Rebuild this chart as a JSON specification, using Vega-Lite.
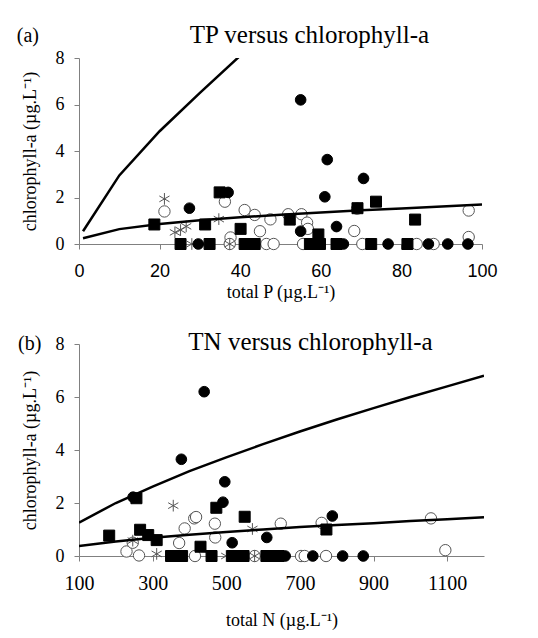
{
  "$schema": "https://vega.github.io/schema/vega-lite/v6.json",
  "autosize": {"type": "pad"},
  "padding": {"left": 16, "top": 22, "right": 5, "bottom": 3},
  "background": "white",
  "config": {
    "view": {"stroke": null},
    "axis": {
      "grid": false,
      "labelFlush": false,
      "labelOverlap": false,
      "domainColor": "#808080",
      "tickColor": "#808080",
      "labelColor": "black",
      "titleColor": "black",
      "labelFont": "Liberation Serif",
      "titleFont": "Liberation Serif",
      "labelFontSize": 18,
      "titleFontSize": 18,
      "titleFontWeight": "normal",
      "tickSize": 5
    },
    "title": {"font": "Liberation Serif", "fontSize": 25, "fontWeight": "normal", "color": "black", "frame": "group"}
  },
  "datasets": {
    "tp": [
      {"tp": 21.2, "chla": 1.40, "series": "C"}, {"tp": 36.2, "chla": 1.82, "series": "C"}, {"tp": 41.1, "chla": 1.46, "series": "C"},
      {"tp": 43.6, "chla": 1.25, "series": "C"}, {"tp": 47.5, "chla": 1.06, "series": "C"}, {"tp": 51.9, "chla": 1.28, "series": "C"},
      {"tp": 55.2, "chla": 1.28, "series": "C"}, {"tp": 56.6, "chla": 0.92, "series": "C"}, {"tp": 56.8, "chla": 0.65, "series": "C"},
      {"tp": 44.9, "chla": 0.55, "series": "C"}, {"tp": 37.6, "chla": 0.28, "series": "C"}, {"tp": 68.3, "chla": 0.56, "series": "C"},
      {"tp": 69.0, "chla": 1.52, "series": "C"}, {"tp": 96.7, "chla": 1.44, "series": "C"}, {"tp": 96.7, "chla": 0.30, "series": "C"},
      {"tp": 37.4, "chla": 0, "series": "C"}, {"tp": 46.5, "chla": 0, "series": "C"}, {"tp": 48.3, "chla": 0, "series": "C"},
      {"tp": 55.6, "chla": 0, "series": "C"}, {"tp": 70.3, "chla": 0, "series": "C"}, {"tp": 83.8, "chla": 0, "series": "C"},
      {"tp": 88.0, "chla": 0, "series": "C"},
      {"tp": 21.2, "chla": 1.94, "series": "D"}, {"tp": 23.8, "chla": 0.50, "series": "D"}, {"tp": 25.2, "chla": 0.60, "series": "D"},
      {"tp": 26.6, "chla": 0.76, "series": "D"}, {"tp": 34.7, "chla": 1.07, "series": "D"}, {"tp": 28.0, "chla": 0, "series": "D"},
      {"tp": 37.4, "chla": 0, "series": "D"},
      {"tp": 18.7, "chla": 0.84, "series": "B"}, {"tp": 31.3, "chla": 0.84, "series": "B"}, {"tp": 34.9, "chla": 2.22, "series": "B"},
      {"tp": 40.1, "chla": 0.65, "series": "B"}, {"tp": 52.3, "chla": 1.05, "series": "B"}, {"tp": 59.4, "chla": 0.41, "series": "B"},
      {"tp": 69.1, "chla": 1.54, "series": "B"}, {"tp": 73.7, "chla": 1.82, "series": "B"}, {"tp": 83.4, "chla": 1.05, "series": "B"},
      {"tp": 25.2, "chla": 0, "series": "B"}, {"tp": 32.4, "chla": 0, "series": "B"}, {"tp": 41.1, "chla": 0, "series": "B"},
      {"tp": 43.6, "chla": 0, "series": "B"}, {"tp": 57.3, "chla": 0, "series": "B"}, {"tp": 59.8, "chla": 0, "series": "B"},
      {"tp": 63.9, "chla": 0, "series": "B"}, {"tp": 72.5, "chla": 0, "series": "B"}, {"tp": 81.5, "chla": 0, "series": "B"},
      {"tp": 55.0, "chla": 6.2, "series": "A"}, {"tp": 61.6, "chla": 3.63, "series": "A"}, {"tp": 70.6, "chla": 2.82, "series": "A"},
      {"tp": 61.0, "chla": 2.03, "series": "A"}, {"tp": 37.0, "chla": 2.22, "series": "A"}, {"tp": 27.4, "chla": 1.54, "series": "A"},
      {"tp": 63.9, "chla": 0.75, "series": "A"}, {"tp": 55.0, "chla": 0.55, "series": "A"}, {"tp": 29.6, "chla": 0, "series": "A"},
      {"tp": 65.6, "chla": 0, "series": "A"}, {"tp": 76.7, "chla": 0, "series": "A"}, {"tp": 86.7, "chla": 0, "series": "A"},
      {"tp": 91.5, "chla": 0, "series": "A"}, {"tp": 96.5, "chla": 0, "series": "A"}
    ],
    "tpCurves": [
      {"tp": 1, "chla": 0.55, "curve": "upper"}, {"tp": 10, "chla": 2.95, "curve": "upper"}, {"tp": 20, "chla": 4.85, "curve": "upper"},
      {"tp": 30, "chla": 6.5, "curve": "upper"}, {"tp": 40, "chla": 8.1, "curve": "upper"},
      {"tp": 1, "chla": 0.25, "curve": "lower"}, {"tp": 10, "chla": 0.64, "curve": "lower"}, {"tp": 20, "chla": 0.86, "curve": "lower"},
      {"tp": 30, "chla": 1.02, "curve": "lower"}, {"tp": 40, "chla": 1.15, "curve": "lower"}, {"tp": 50, "chla": 1.26, "curve": "lower"},
      {"tp": 60, "chla": 1.36, "curve": "lower"}, {"tp": 70, "chla": 1.45, "curve": "lower"}, {"tp": 80, "chla": 1.53, "curve": "lower"},
      {"tp": 90, "chla": 1.61, "curve": "lower"}, {"tp": 100, "chla": 1.7, "curve": "lower"}
    ],
    "tn": [
      {"tn": 229, "chla": 0.17, "series": "C"}, {"tn": 263, "chla": 0.02, "series": "C"}, {"tn": 246, "chla": 0.5, "series": "C"},
      {"tn": 372, "chla": 0.49, "series": "C"}, {"tn": 387, "chla": 1.04, "series": "C"}, {"tn": 413, "chla": 1.42, "series": "C"},
      {"tn": 418, "chla": 1.47, "series": "C"}, {"tn": 469, "chla": 1.22, "series": "C"}, {"tn": 470, "chla": 0.7, "series": "C"},
      {"tn": 648, "chla": 1.22, "series": "C"}, {"tn": 759, "chla": 1.25, "series": "C"}, {"tn": 1056, "chla": 1.42, "series": "C"},
      {"tn": 1095, "chla": 0.22, "series": "C"}, {"tn": 415, "chla": 0, "series": "C"}, {"tn": 577, "chla": 0, "series": "C"},
      {"tn": 703, "chla": 0, "series": "C"}, {"tn": 713, "chla": 0, "series": "C"}, {"tn": 771, "chla": 0, "series": "C"},
      {"tn": 246, "chla": 0.58, "series": "D"}, {"tn": 356, "chla": 1.9, "series": "D"}, {"tn": 571, "chla": 1.02, "series": "D"},
      {"tn": 311, "chla": 0.08, "series": "D"}, {"tn": 500, "chla": 0, "series": "D"}, {"tn": 577, "chla": 0, "series": "D"},
      {"tn": 182, "chla": 0.77, "series": "B"}, {"tn": 266, "chla": 0.99, "series": "B"}, {"tn": 288, "chla": 0.79, "series": "B"},
      {"tn": 311, "chla": 0.6, "series": "B"}, {"tn": 256, "chla": 2.18, "series": "B"}, {"tn": 430, "chla": 0.35, "series": "B"},
      {"tn": 473, "chla": 1.82, "series": "B"}, {"tn": 550, "chla": 1.48, "series": "B"}, {"tn": 772, "chla": 1.0, "series": "B"},
      {"tn": 350, "chla": 0, "series": "B"}, {"tn": 365, "chla": 0, "series": "B"}, {"tn": 380, "chla": 0, "series": "B"},
      {"tn": 460, "chla": 0, "series": "B"}, {"tn": 516, "chla": 0, "series": "B"}, {"tn": 531, "chla": 0, "series": "B"},
      {"tn": 547, "chla": 0, "series": "B"}, {"tn": 609, "chla": 0, "series": "B"}, {"tn": 625, "chla": 0, "series": "B"},
      {"tn": 642, "chla": 0, "series": "B"},
      {"tn": 440, "chla": 6.2, "series": "A"}, {"tn": 378, "chla": 3.65, "series": "A"}, {"tn": 496, "chla": 2.8, "series": "A"},
      {"tn": 491, "chla": 2.03, "series": "A"}, {"tn": 247, "chla": 2.22, "series": "A"}, {"tn": 516, "chla": 0.5, "series": "A"},
      {"tn": 610, "chla": 0.7, "series": "A"}, {"tn": 788, "chla": 1.51, "series": "A"}, {"tn": 660, "chla": 0, "series": "A"},
      {"tn": 735, "chla": 0, "series": "A"}, {"tn": 816, "chla": 0, "series": "A"}, {"tn": 872, "chla": 0, "series": "A"}
    ],
    "tnCurves": [
      {"tn": 100, "chla": 1.26, "curve": "upper"}, {"tn": 200, "chla": 2.0, "curve": "upper"}, {"tn": 300, "chla": 2.62, "curve": "upper"},
      {"tn": 400, "chla": 3.2, "curve": "upper"}, {"tn": 500, "chla": 3.72, "curve": "upper"}, {"tn": 600, "chla": 4.22, "curve": "upper"},
      {"tn": 700, "chla": 4.7, "curve": "upper"}, {"tn": 800, "chla": 5.15, "curve": "upper"}, {"tn": 900, "chla": 5.58, "curve": "upper"},
      {"tn": 1000, "chla": 6.0, "curve": "upper"}, {"tn": 1100, "chla": 6.4, "curve": "upper"}, {"tn": 1200, "chla": 6.8, "curve": "upper"},
      {"tn": 100, "chla": 0.38, "curve": "lower"}, {"tn": 200, "chla": 0.55, "curve": "lower"}, {"tn": 300, "chla": 0.69, "curve": "lower"},
      {"tn": 400, "chla": 0.8, "curve": "lower"}, {"tn": 500, "chla": 0.91, "curve": "lower"}, {"tn": 600, "chla": 1.0, "curve": "lower"},
      {"tn": 700, "chla": 1.09, "curve": "lower"}, {"tn": 800, "chla": 1.17, "curve": "lower"}, {"tn": 900, "chla": 1.24, "curve": "lower"},
      {"tn": 1000, "chla": 1.32, "curve": "lower"}, {"tn": 1100, "chla": 1.39, "curve": "lower"}, {"tn": 1200, "chla": 1.46, "curve": "lower"}
    ]
  },
  "resolve": {"scale": {"x": "independent", "y": "independent"}},
  "spacing": 29,
  "vconcat": [
    {
      "width": 403,
      "height": 186,
      "title": {"text": "TP versus chlorophyll-a", "dx": 29, "offset": -22},
      "layer": [
        {
          "data": {"name": "tp"},
          "mark": {"type": "point", "filled": true, "strokeWidth": 1, "opacity": 1},
          "encoding": {
            "x": {"field": "tp", "type": "quantitative", "scale": {"domain": [0, 100]},
                  "axis": {"values": [0, 20, 40, 60, 80, 100], "title": "total P (µg.L⁻¹)", "labelFont": "Liberation Sans", "labelFontSize": 18, "labelPadding": 13, "titlePadding": 3, "titleFont": "Liberation Serif"}},
            "y": {"field": "chla", "type": "quantitative", "scale": {"domain": [0, 8]},
                  "axis": {"values": [0, 2, 4, 6, 8], "title": "chlorophyll-a (µg.L⁻¹)", "labelFont": "Liberation Serif", "labelPadding": 10, "titlePadding": 16}},
            "shape": {"field": "series", "type": "nominal", "legend": null,
                      "scale": {"domain": ["A", "B", "C", "D"], "range": ["circle", "square", "circle", "M0,-1L0,1M-0.87,-0.5L0.87,0.5M-0.87,0.5L0.87,-0.5"]}},
            "fill": {"field": "series", "type": "nominal", "legend": null,
                     "scale": {"domain": ["A", "B", "C", "D"], "range": ["black", "black", "white", "white"]}},
            "fillOpacity": {"field": "series", "type": "nominal", "legend": null,
                     "scale": {"domain": ["A", "B", "C", "D"], "range": [1, 1, 0, 0]}},
            "stroke": {"field": "series", "type": "nominal", "legend": null,
                       "scale": {"domain": ["A", "B", "C", "D"], "range": ["black", "black", "#555555", "#555555"]}},
            "size": {"field": "series", "type": "nominal", "legend": null,
                     "scale": {"domain": ["A", "B", "C", "D"], "range": [113, 137, 130, 150]}}
          }
        },
        {
          "data": {"name": "tpCurves"},
          "mark": {"type": "line", "color": "black", "strokeWidth": 2.5, "clip": true},
          "encoding": {
            "x": {"field": "tp", "type": "quantitative"},
            "y": {"field": "chla", "type": "quantitative"},
            "detail": {"field": "curve", "type": "nominal"}
          }
        },
        {
          "data": {"values": [{}]},
          "mark": {"type": "text", "font": "Liberation Serif", "fontSize": 20, "color": "black"},
          "encoding": {
            "x": {"datum": -12.7, "type": "quantitative"},
            "y": {"datum": 8.95, "type": "quantitative"},
            "text": {"value": "(a)"}
          }
        }
      ]
    },
    {
      "width": 405,
      "height": 212,
      "title": {"text": "TN versus chlorophyll-a", "dx": 29, "offset": -21},
      "layer": [
        {
          "data": {"name": "tn"},
          "mark": {"type": "point", "filled": true, "strokeWidth": 1, "opacity": 1},
          "encoding": {
            "x": {"field": "tn", "type": "quantitative", "scale": {"domain": [100, 1200]},
                  "axis": {"values": [100, 300, 500, 700, 900, 1100], "format": "d", "title": "total N (µg.L⁻¹)", "labelFont": "Liberation Serif", "labelFontSize": 20, "labelPadding": 12, "titlePadding": 18}},
            "y": {"field": "chla", "type": "quantitative", "scale": {"domain": [0, 8]},
                  "axis": {"values": [0, 2, 4, 6, 8], "title": "chlorophyll-a (µg.L⁻¹)", "labelFont": "Liberation Serif", "labelPadding": 10, "titlePadding": 16}},
            "shape": {"field": "series", "type": "nominal", "legend": null,
                      "scale": {"domain": ["A", "B", "C", "D"], "range": ["circle", "square", "circle", "M0,-1L0,1M-0.87,-0.5L0.87,0.5M-0.87,0.5L0.87,-0.5"]}},
            "fill": {"field": "series", "type": "nominal", "legend": null,
                     "scale": {"domain": ["A", "B", "C", "D"], "range": ["black", "black", "white", "white"]}},
            "fillOpacity": {"field": "series", "type": "nominal", "legend": null,
                     "scale": {"domain": ["A", "B", "C", "D"], "range": [1, 1, 0, 0]}},
            "stroke": {"field": "series", "type": "nominal", "legend": null,
                       "scale": {"domain": ["A", "B", "C", "D"], "range": ["black", "black", "#555555", "#555555"]}},
            "size": {"field": "series", "type": "nominal", "legend": null,
                     "scale": {"domain": ["A", "B", "C", "D"], "range": [113, 137, 130, 150]}}
          }
        },
        {
          "data": {"name": "tnCurves"},
          "mark": {"type": "line", "color": "black", "strokeWidth": 2.5, "clip": true},
          "encoding": {
            "x": {"field": "tn", "type": "quantitative"},
            "y": {"field": "chla", "type": "quantitative"},
            "detail": {"field": "curve", "type": "nominal"}
          }
        },
        {
          "data": {"values": [{}]},
          "mark": {"type": "text", "font": "Liberation Serif", "fontSize": 20, "color": "black"},
          "encoding": {
            "x": {"datum": -34, "type": "quantitative"},
            "y": {"datum": 8.0, "type": "quantitative"},
            "text": {"value": "(b)"}
          }
        }
      ]
    }
  ]
}
